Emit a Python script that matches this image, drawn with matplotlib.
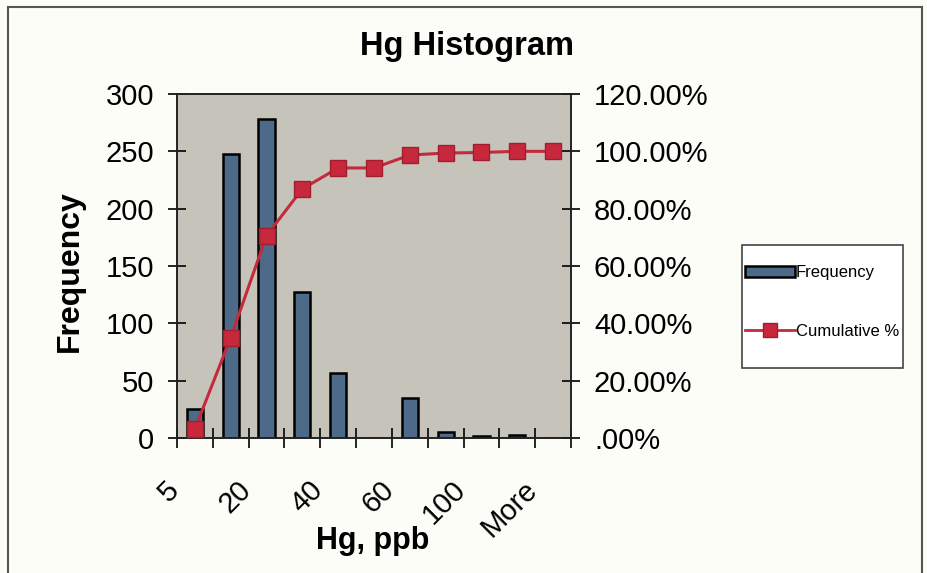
import numpy as np
import matplotlib
matplotlib.use("Agg")
import matplotlib.pyplot as plt
import matplotlib.transforms as mtrans
from matplotlib.patches import Rectangle, Patch
from matplotlib.lines import Line2D
from matplotlib.ticker import FuncFormatter

plt.rcParams['font.family'] = ['Liberation Sans', 'DejaVu Sans']

# histogram bins (Excel style) and the values
bins = ['5', '10', '20', '30', '40', '50', '60', '80', '100', '150', 'More']
freq = [25, 248, 278, 127, 57, 0, 35, 5, 2, 3, 0]
cum_pct = [3.2, 35.0, 70.6, 86.9, 94.2, 94.2, 98.7, 99.4, 99.6, 100.0, 100.0]

bg = '#fdfdf8'
bar_col = '#4d6a88'
red = '#c42a3a'

fig = plt.figure(figsize=(9.27, 5.73), dpi=100, facecolor=bg)
ax = fig.add_axes([177/927, 1-438/573, (571-177)/927, (438-94)/573])
ax.set_facecolor('#c6c4ba')

x = np.arange(len(bins))
ax.bar(x, freq, width=0.45, color=bar_col, edgecolor='black', linewidth=1.8, zorder=2)
ax.set_xlim(-0.5, len(bins) - 0.5)
ax.set_ylim(0, 300)
ax.set_yticks(np.arange(0, 301, 50))

ax2 = ax.twinx()
ax2.plot(x, np.array(cum_pct) / 100, color=red, lw=2.2, marker='s', ms=11,
         mfc='#c8283c', mec='#a01e2e', zorder=3)
ax2.set_ylim(0, 1.2)
ax2.set_yticks(np.arange(0, 1.21, 0.2))


def pct(v, pos):
    s = f"{v*100:.2f}%"
    return s[1:] if s.startswith('0') else s


ax2.yaxis.set_major_formatter(FuncFormatter(pct))

# ticks on category boundaries, labels on every other bin
ax.set_xticks(np.arange(-0.5, len(bins), 1))
ax.set_xticklabels([])
ax.set_xticks(x[::2], minor=True)
ax.set_xticklabels(bins[::2], minor=True, rotation=45, ha='right', va='top')
ax.tick_params(axis='x', which='minor', length=0, pad=27, labelsize=21)
ax.tick_params(axis='x', which='major', direction='inout', length=14, width=1.2)
ax.tick_params(axis='y', direction='inout', length=13, width=1.2, pad=10, labelsize=21)
ax2.tick_params(axis='y', direction='inout', length=13, width=1.2, pad=10, labelsize=21)

off = mtrans.ScaledTranslation(-0.10, 0, fig.dpi_scale_trans)
for lab in ax.get_xticklabels(minor=True):
    lab.set_transform(lab.get_transform() + off)

for a in (ax, ax2):
    for sp in a.spines.values():
        sp.set_color('#222222')
        sp.set_linewidth(1.2)

fig.text(467/927, 1-47/573, 'Hg Histogram', ha='center', va='center',
         fontsize=23.5, fontweight='bold')
fig.text(70/927, 1-271/573, 'Frequency', ha='center', va='center',
         rotation=90, fontsize=23, fontweight='bold')
fig.text(373/927, 1-541/573, 'Hg, ppb', ha='center', va='center',
         fontsize=22, fontweight='bold')

handles = [Patch(facecolor=bar_col, edgecolor='black', linewidth=1.8),
           Line2D([], [], color=red, lw=2, marker='s', ms=10,
                  mfc='#c8283c', mec='#a01e2e')]
leg = fig.legend(handles, ['Frequency', 'Cumulative %'], loc='center',
                 bbox_to_anchor=(822/927, 1-302/573), fontsize=12,
                 handlelength=3.0, handletextpad=0.05, labelspacing=2.6,
                 borderpad=0.2, borderaxespad=0, frameon=False)

# legend box and outer chart border
fig.patches.append(Rectangle((742/927, 1-368/573), (903-742)/927, (368-245)/573,
                             transform=fig.transFigure, facecolor='white',
                             edgecolor='#444444', lw=1.2, zorder=0))
fig.patches.append(Rectangle((8/927, -0.05), (922-8)/927, 1.05-7/573,
                             transform=fig.transFigure, fill=False,
                             edgecolor='#555555', lw=1.5))

fig.savefig('out.png', dpi=100, facecolor=bg)
